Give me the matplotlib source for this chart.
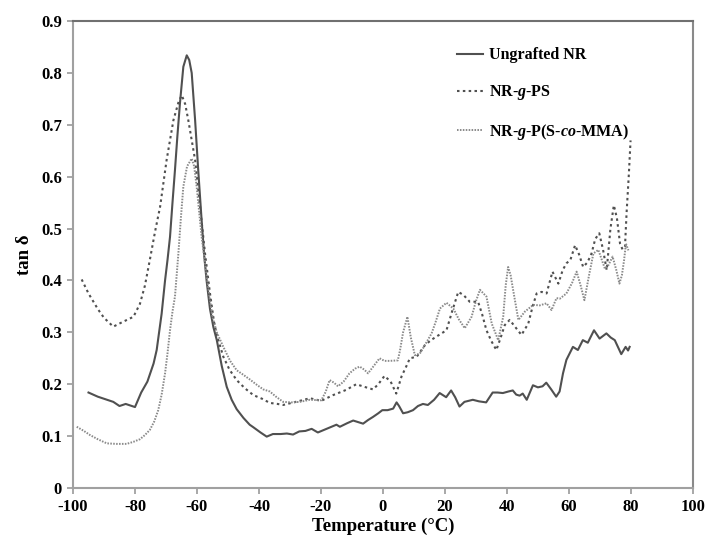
import numpy as np
import matplotlib
matplotlib.use('Agg')
import matplotlib.pyplot as plt
from matplotlib import rc

rc('font', family='Liberation Serif', weight='bold')
rc('mathtext', fontset='custom', it='Liberation Serif:bold:italic', rm='Liberation Serif:bold')
rc('axes', unicode_minus=False)

# Ungrafted NR (solid)
t_nr = [-95, -92, -90, -87, -85, -83, -81, -80, -78, -76,
        -74, -73, -71.4, -70.3, -69.5, -68.7, -67.9, -67.1, -66.3, -65.5,
        -64.4, -63.3, -62.5, -61.7, -60.6, -59.6, -58.5, -57.7, -56.9, -55.8,
        -54.7, -53.6, -52, -50.4, -48.8, -47.2, -45, -43, -41.8, -39.5,
        -37.5, -35.5, -33, -31, -29, -27, -25, -23, -21, -19,
        -17, -15, -13.9, -11.5, -9.6, -8, -6.4, -4.8, -3.2, -1.5,
        -0.2, 1.5, 3.3, 4.4, 5.2, 6.5, 8, 9.7, 11.3, 12.9,
        14.5, 16.5, 18.3, 20.4, 22.0, 23.3, 24.7, 26.3, 29.0, 31,
        33.3, 35.4, 37, 38.7, 40.5, 41.9, 43, 44.1, 45.1, 46.4,
        48.4, 50.0, 51.5, 52.7, 54.3, 55.9, 57.0, 58.1, 59.2, 61.3,
        62.9, 64.5, 66.1, 68.1, 69.9, 72.1, 73.5, 74.8, 76.9, 78.3,
        79.1, 79.6]
v_nr = [0.184, 0.176, 0.172, 0.166, 0.158, 0.162, 0.158, 0.156, 0.184, 0.205,
        0.240, 0.266, 0.336, 0.400, 0.440, 0.484, 0.550, 0.613, 0.680, 0.741,
        0.812, 0.834, 0.825, 0.800, 0.709, 0.613, 0.516, 0.450, 0.400, 0.345,
        0.310, 0.285, 0.235, 0.195, 0.170, 0.152, 0.135, 0.122, 0.117, 0.107,
        0.099, 0.104, 0.104, 0.105, 0.103, 0.109, 0.110, 0.114, 0.107, 0.112,
        0.117, 0.122, 0.118, 0.125, 0.130, 0.127, 0.124, 0.131, 0.137, 0.144,
        0.150, 0.150, 0.153, 0.165, 0.158, 0.144, 0.146, 0.150, 0.158, 0.162,
        0.160, 0.170, 0.183, 0.175, 0.188, 0.175, 0.157, 0.166, 0.170, 0.167,
        0.165, 0.184, 0.184, 0.183, 0.186, 0.188, 0.180, 0.178, 0.182, 0.170,
        0.198, 0.194, 0.196, 0.203, 0.190, 0.176, 0.186, 0.221, 0.247, 0.272,
        0.266, 0.285, 0.280, 0.304, 0.288, 0.298, 0.290, 0.285, 0.258, 0.272,
        0.265, 0.272]

# NR-g-PS (coarse dots)
t_ps = [-97.2, -95, -92, -90, -87, -84, -80.5, -78.4, -76.8, -75.2,
        -73.5, -71.9, -69.8, -67.6, -65.9, -64.9, -63.8, -62.8, -60.6, -59,
        -57.4, -55.8, -54.5, -53.6, -51.5, -49.5, -47.2, -44.5, -41.8, -39,
        -36.5, -34, -32.2, -29.5, -26.8, -23.6, -19.9, -16.1, -11.9, -8.6,
        -6, -3.2, -1.5, 0.5, 2.5, 4.3, 6, 7.5, 8.7, 10.9,
        13.5, 15.5, 17.3, 20.5, 22.3, 24.3, 26, 28.0, 30.7, 32,
        33.4, 35, 36.6, 38, 39.3, 40.9, 42.6, 44.7, 46.9, 48.3,
        49.6, 51.2, 52.8, 54.7, 56.6, 58, 59.2, 60.5, 62.0, 63.3,
        64.6, 66, 67.3, 68.5, 69.8, 71, 72.2, 73.4, 74.5, 75.5,
        76.5, 77.3, 78.1, 78.6, 79.3, 79.9]
v_ps = [0.402, 0.375, 0.345, 0.328, 0.311, 0.320, 0.330, 0.355, 0.390, 0.440,
        0.495, 0.542, 0.632, 0.709, 0.745, 0.757, 0.740, 0.709, 0.632, 0.542,
        0.452, 0.375, 0.320, 0.295, 0.253, 0.228, 0.208, 0.192, 0.179, 0.172,
        0.164, 0.162, 0.160, 0.164, 0.168, 0.173, 0.168, 0.179, 0.189, 0.200,
        0.195, 0.190, 0.200, 0.216, 0.205, 0.182, 0.215, 0.234, 0.250, 0.253,
        0.275, 0.285, 0.292, 0.304, 0.340, 0.378, 0.372, 0.359, 0.359, 0.335,
        0.304, 0.283, 0.266, 0.290, 0.314, 0.324, 0.311, 0.295, 0.317, 0.350,
        0.375, 0.378, 0.375, 0.417, 0.394, 0.420, 0.433, 0.440, 0.468, 0.450,
        0.426, 0.435, 0.452, 0.480, 0.491, 0.460, 0.420, 0.500, 0.545, 0.520,
        0.471, 0.460, 0.465, 0.529, 0.600, 0.670]

# NR-g-P(S-co-MMA) (fine dots)
t_sm = [-98.8, -96.5, -94.5, -92, -89.1, -86, -82.7, -80.5, -78.4, -76.8,
        -75.2, -73.8, -72.5, -71.4, -70.3, -69.5, -68.7, -67.9, -67.1, -66.0,
        -65.2, -64.4, -63.2, -61.7, -60.9, -60.1, -58.5, -56.4, -55, -53.6,
        -51.5, -49.3, -47.2, -45, -42.9, -40.5, -38.6, -36.5, -34.5, -32.2,
        -29.5, -26.8, -23.6, -19.9, -18.5, -17.2, -15.8, -14.5, -12.7, -10.8,
        -9, -7.5, -6, -4.8, -3, -1.1, 0.5, 2.2, 4.8, 5.5,
        6.5, 7.9, 9, 10.3, 11.9, 13.5, 15.7, 17, 18.4, 20.5,
        22.7, 24.5, 26.4, 28.6, 30, 31.3, 33.4, 35.1, 37.2, 38.8,
        39.6, 40.4, 41.2, 42.0, 43.7, 45.8, 48.5, 50.6, 52.8, 54.4,
        56.0, 57.1, 59.2, 61, 62.5, 63.8, 65.0, 66.5, 67.9, 69.5,
        71.6, 72.8, 74.1, 75.3, 76.3, 77.1, 77.8, 78.4, 79.2]
v_sm = [0.118, 0.110, 0.102, 0.094, 0.086, 0.085, 0.085, 0.089, 0.094, 0.102,
        0.112, 0.128, 0.150, 0.180, 0.221, 0.260, 0.304, 0.340, 0.369, 0.452,
        0.520, 0.581, 0.620, 0.635, 0.620, 0.581, 0.484, 0.388, 0.330, 0.300,
        0.272, 0.245, 0.227, 0.218, 0.209, 0.198, 0.190, 0.186, 0.176, 0.166,
        0.165, 0.166, 0.170, 0.169, 0.185, 0.208, 0.203, 0.196, 0.205, 0.221,
        0.230, 0.234, 0.228, 0.221, 0.235, 0.250, 0.245, 0.245, 0.246, 0.265,
        0.300, 0.330, 0.290, 0.256, 0.259, 0.275, 0.298, 0.320, 0.346, 0.357,
        0.346, 0.325, 0.308, 0.330, 0.360, 0.382, 0.369, 0.317, 0.285, 0.330,
        0.390, 0.426, 0.410, 0.382, 0.324, 0.340, 0.353, 0.352, 0.356, 0.343,
        0.366, 0.365, 0.375, 0.395, 0.417, 0.390, 0.362, 0.410, 0.452, 0.459,
        0.423, 0.430, 0.446, 0.420, 0.394, 0.410, 0.439, 0.471, 0.458]

fig = plt.figure(figsize=(7.06, 5.41), dpi=100)
ax = fig.add_axes([0.1034, 0.098, 0.878, 0.863])

ax.plot(t_nr, v_nr, color='#505050', lw=1.5, ls='-', label='Ungrafted NR')
ax.plot(t_ps, v_ps, color='#505050', lw=1.5, ls=(0, (1.2, 1.6)), label='NR-$\\mathit{g}$-PS')
ax.plot(t_sm, v_sm, color='#8a8a8a', lw=1.4, ls=(0, (0.8, 0.7)), label='NR-$\\mathit{g}$-P(S-$\\mathit{co}$-MMA)')

ax.set_xlim(-100, 100)
ax.set_ylim(0, 0.9)
ax.set_xticks(np.arange(-100, 101, 20))
ax.set_xticklabels([str(v) for v in range(-100, 101, 20)])
ax.set_yticks(np.arange(0, 0.91, 0.1))
ax.set_yticklabels(['0', '0.1', '0.2', '0.3', '0.4', '0.5', '0.6', '0.7', '0.8', '0.9'])
ax.tick_params(axis='both', direction='out', length=4, width=1.2, color='#999999',
               labelsize=12, pad=4)
for lab in ax.get_xticklabels() + ax.get_yticklabels():
    lab.set_fontweight('bold')

ax.spines['left'].set_color('#a0a0a0')
ax.spines['bottom'].set_color('#a0a0a0')
ax.spines['top'].set_color('#707070')
ax.spines['right'].set_color('#8a8a8a')
for s in ax.spines.values():
    s.set_linewidth(1.5)

ax.set_xlabel('Temperature (°C)', fontsize=13.5, fontweight='bold', labelpad=2)
ax.set_ylabel('tan δ', fontsize=13.5, fontweight='bold', labelpad=6)

ax.legend(loc='upper left', bbox_to_anchor=(0.597, 0.975), frameon=False,
          handlelength=1.6, handletextpad=0.35, labelspacing=1.25,
          prop={'weight': 'bold', 'size': 11.5})

plt.savefig('out.png', dpi=100)
